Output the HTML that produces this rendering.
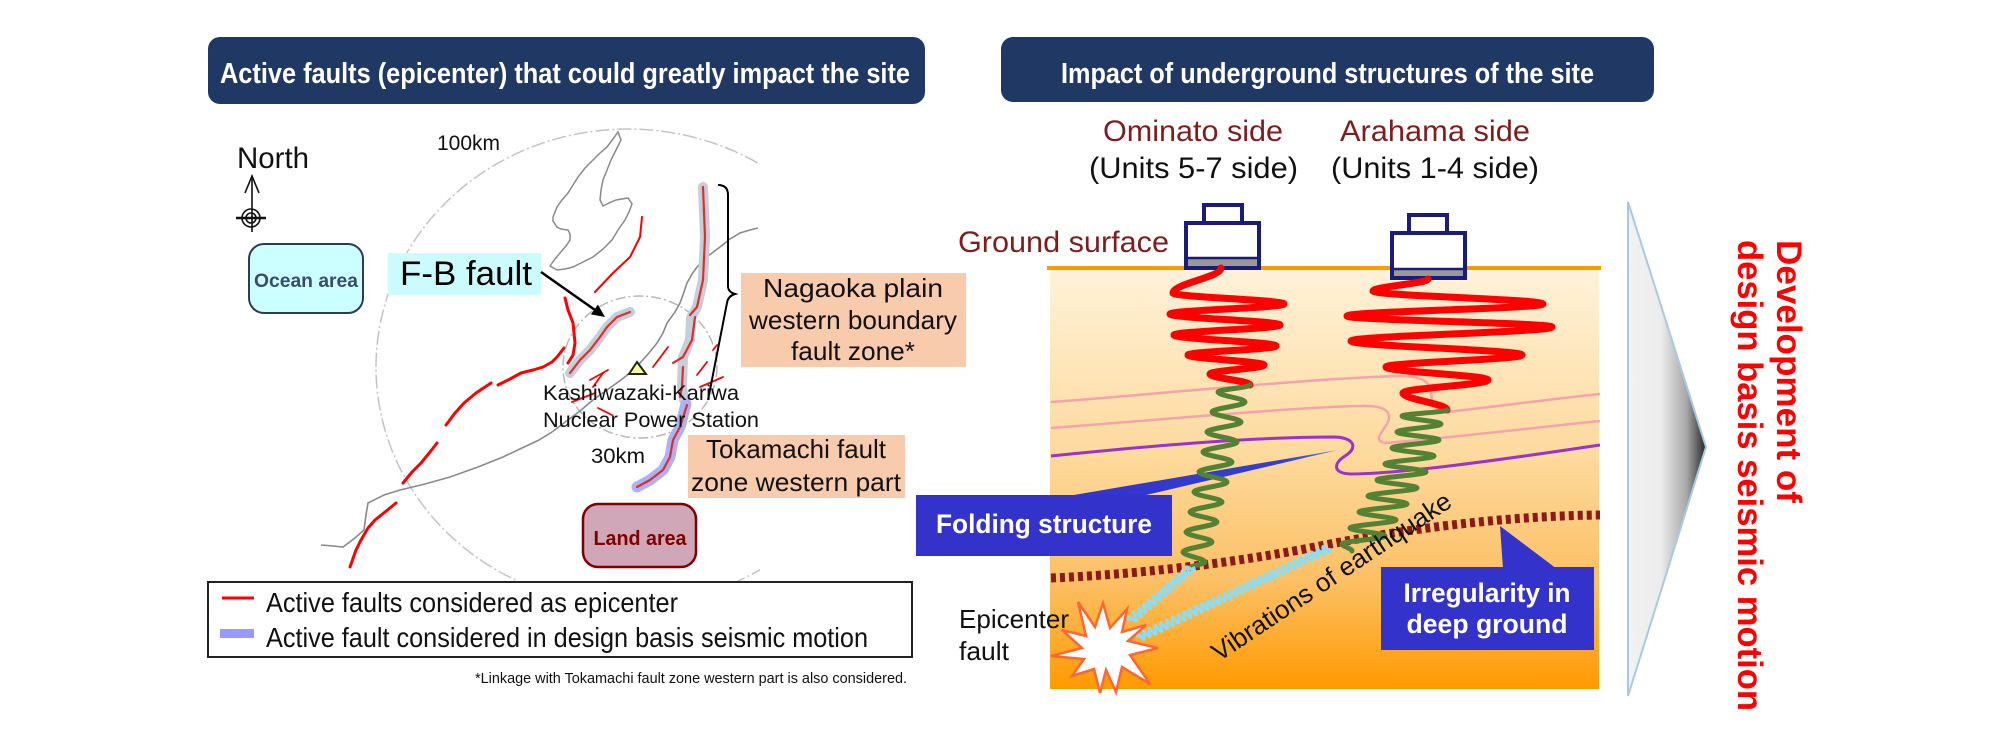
<!DOCTYPE html>
<html>
<head>
<meta charset="utf-8">
<style>
html,body{margin:0;padding:0;background:#fff;}
svg{display:block;}
text{font-family:"Liberation Sans",sans-serif;}
.nar{font-family:"Liberation Sans Narrow","Liberation Sans",sans-serif;}
</style>
</head>
<body>
<svg xmlns="http://www.w3.org/2000/svg" width="2000" height="750" viewBox="0 0 2000 750">
<defs>
  <linearGradient id="gnd" x1="0" y1="0" x2="0" y2="1">
    <stop offset="0" stop-color="#fff2da"/>
    <stop offset="0.45" stop-color="#fdd99c"/>
    <stop offset="0.75" stop-color="#fcbf63"/>
    <stop offset="1" stop-color="#ff9a00"/>
  </linearGradient>
  <linearGradient id="tri" x1="1628" y1="0" x2="1706" y2="0" gradientUnits="userSpaceOnUse">
    <stop offset="0" stop-color="#f2f2f2"/>
    <stop offset="0.42" stop-color="#ececec"/>
    <stop offset="0.75" stop-color="#a8a8a8"/>
    <stop offset="1" stop-color="#262626"/>
  </linearGradient>
  <linearGradient id="wedge" x1="1070" y1="0" x2="1338" y2="0" gradientUnits="userSpaceOnUse">
    <stop offset="0" stop-color="#3333cc"/>
    <stop offset="0.8" stop-color="#3340cc"/>
    <stop offset="1" stop-color="#6677dd"/>
  </linearGradient>
  <clipPath id="mapclip"><rect x="330" y="118" width="430" height="463"/></clipPath>
</defs>

<!-- ================= LEFT PANEL ================= -->
<rect x="208" y="37" width="717" height="67" rx="12" fill="#203864"/>
<text class="nar" x="220" y="83" font-size="29" font-weight="bold" fill="#fff" textLength="690" lengthAdjust="spacingAndGlyphs">Active faults (epicenter) that could greatly impact the site</text>

<!-- map circles -->
<g clip-path="url(#mapclip)">
  <ellipse cx="628" cy="367" rx="252" ry="238" fill="none" stroke="#c4c4c4" stroke-width="1.5" stroke-dasharray="14 3 2 3"/>
</g>
<ellipse cx="640" cy="367" rx="77" ry="71" fill="none" stroke="#b8b8b8" stroke-width="1.5" stroke-dasharray="10 3 2 3"/>

<!-- coastline -->
<path d="M321,545 L333,546 L343,547 L355,538 L364,530 L366,515 L368,503 L384,495 L400,490 L425,484 L450,477 L478,467 L503,457 L522,448 L539,440 L552,432 L564,423 L580,411 L593,400 L607,390 L621,380 L631,372 L640,363 L649,353 L657,343 L663,333 L667,323 L675,312 L680,303 L684,292 L687,283 L692,274 L697,267 L708,256 L720,247 L730,239 L740,233 L750,230 L758,228" fill="none" stroke="#8a8a8a" stroke-width="1.6"/>
<!-- Sado island -->
<path d="M618,132 L621,140 L616,150 L611,160 L607,170 L603,180 L601,190 L600,200 L603,206 L607,204 L616,200 L628,198 L632,204 L629,212 L625,220 L618,230 L612,240 L603,249 L593,257 L583,262 L573,267 L565,269 L557,270 L550,266 L555,259 L560,253 L566,246 L570,240 L570,234 L568,230 L561,229 L557,227 L553,221 L553,217 L557,207 L562,200 L568,193 L573,185 L578,177 L585,168 L593,160 L600,153 L607,147 L613,139 Z" fill="none" stroke="#8a8a8a" stroke-width="1.5"/>

<!-- fault halos -->
<g fill="none" stroke-linecap="round" stroke-linejoin="round">
  <path d="M570,373 L580,360 L590,350 L600,337 L607,327 L617,317 L630,312" stroke="#c6ceda" stroke-width="10"/>
  <path d="M703,187 L705,237 L703,280 L697,307 L691,318 L690,340 L683,357 L682,387 L684,400" stroke="#c6ceda" stroke-width="10"/>
  <path d="M686,404 L680,427 L673,440 L670,457 L663,470 L650,480 L637,487" stroke="#aeb2f2" stroke-width="11"/>
</g>
<!-- red faults -->
<g fill="none" stroke="#ff0000" stroke-linecap="round" stroke-linejoin="round">
  <path d="M350,567 L356,550 L361,540 L368,528 L375,520 L385,512 L396,503" stroke-width="3"/>
  <path d="M403,483 L412,472 L421,463 L430,452 L437,443" stroke-width="3"/>
  <path d="M446,425 L455,413 L464,403 L476,393 L491,383" stroke-width="3"/>
  <path d="M498,385 L510,379 L521,373 L533,370 L543,367 L552,362 L557,357 L564,348" stroke-width="3"/>
  <path d="M565,298 L568,310 L573,323 L575,343 L573,355 L568,363" stroke-width="3"/>
  <path d="M642,217 L640,237 L630,257 L613,273 L595,292" stroke-width="2"/>
  <path d="M653,367 L668,347" stroke-width="1.8"/>
  <path d="M697,375 L707,362" stroke-width="1.8"/>
  <path d="M700,387 L723,377" stroke-width="1.8"/>
  <path d="M713,350 L717,345" stroke-width="1.8"/>
  <path d="M590,380 L608,370" stroke-width="1.8"/>
  <path d="M598,408 L612,415" stroke-width="1.8"/>
  <path d="M593,387 L603,373" stroke-width="1.8"/>
  <path d="M572,402 L595,393" stroke-width="1.8"/>
</g>
<g fill="none" stroke="#d9302f" stroke-width="2.2" stroke-linecap="round" stroke-linejoin="round">
  <path d="M570,373 L580,360 L590,350 L600,337 L607,327 L617,317 L630,312"/>
  <path d="M703,187 L705,237 L703,280 L697,307 L690,315"/>
  <path d="M695,317 L692,340 L683,357 L673,363"/>
  <path d="M683,367 L682,387 L680,397"/>
  <path d="M687,405 L680,427 L673,440 L670,457 L663,470 L650,480 L637,487"/>
</g>
<!-- brace -->
<path d="M718,185 Q728,185 728,195 L728,286 Q728,292 735,294 Q728,296 727,303 L708,400" fill="none" stroke="#000" stroke-width="2"/>
<!-- station -->
<polygon points="637,362 629,374 646,374" fill="#ffff99" stroke="#222" stroke-width="2"/>

<!-- North -->
<text x="237" y="168" font-size="30" fill="#111" textLength="72" lengthAdjust="spacingAndGlyphs">North</text>
<line x1="252" y1="176" x2="252" y2="232" stroke="#111" stroke-width="1.6"/>
<polyline points="245,193 252,176 259,193" fill="none" stroke="#111" stroke-width="1.6"/>
<circle cx="251" cy="218" r="9" fill="none" stroke="#111" stroke-width="1.6"/>
<circle cx="251" cy="218" r="5" fill="none" stroke="#111" stroke-width="1.6"/>
<line x1="236" y1="218" x2="266" y2="218" stroke="#111" stroke-width="2.5"/>

<text x="437" y="150" font-size="21" fill="#111" textLength="63" lengthAdjust="spacingAndGlyphs">100km</text>

<!-- Ocean area -->
<rect x="249" y="244" width="114" height="69" rx="15" fill="#ccffff" stroke="#2f3b55" stroke-width="2"/>
<text x="306" y="287" font-size="19.5" font-weight="bold" fill="#3a4a6e" text-anchor="middle" textLength="104" lengthAdjust="spacingAndGlyphs">Ocean area</text>

<!-- F-B fault -->
<rect x="388" y="253" width="153" height="42" fill="#ccfbfd"/>
<text x="400" y="285" font-size="34" fill="#000" textLength="132" lengthAdjust="spacingAndGlyphs">F-B fault</text>
<line x1="541" y1="272" x2="595" y2="310" stroke="#000" stroke-width="2.5"/>
<polygon points="605,317 590.9,314.4 597.9,304.6" fill="#000"/>

<!-- station labels -->
<text x="543" y="400" font-size="21" fill="#111" textLength="196" lengthAdjust="spacingAndGlyphs">Kashiwazaki-Kariwa</text>
<text x="543" y="427" font-size="21" fill="#111" textLength="216" lengthAdjust="spacingAndGlyphs">Nuclear Power Station</text>
<text x="591" y="463" font-size="21" fill="#111" textLength="54" lengthAdjust="spacingAndGlyphs">30km</text>

<!-- Nagaoka box -->
<rect x="741" y="273" width="225" height="94" fill="#f8cbad"/>
<text x="853" y="297" font-size="26" fill="#111" text-anchor="middle" textLength="180" lengthAdjust="spacingAndGlyphs">Nagaoka plain</text>
<text x="853" y="329" font-size="26" fill="#111" text-anchor="middle" textLength="208" lengthAdjust="spacingAndGlyphs">western boundary</text>
<text x="853" y="360" font-size="26" fill="#111" text-anchor="middle" textLength="124" lengthAdjust="spacingAndGlyphs">fault zone*</text>

<!-- Tokamachi box -->
<rect x="688" y="435" width="217" height="63" fill="#f8cbad"/>
<text x="796" y="458" font-size="26" fill="#111" text-anchor="middle" textLength="180" lengthAdjust="spacingAndGlyphs">Tokamachi fault</text>
<text x="796" y="491" font-size="26" fill="#111" text-anchor="middle" textLength="210" lengthAdjust="spacingAndGlyphs">zone western part</text>

<!-- Land area -->
<rect x="583" y="504" width="113" height="63" rx="15" fill="#cfa7b6" stroke="#7f0000" stroke-width="2.5"/>
<text x="640" y="545" font-size="20" font-weight="bold" fill="#7f0000" text-anchor="middle" textLength="93" lengthAdjust="spacingAndGlyphs">Land area</text>

<!-- Legend -->
<rect x="208" y="582" width="704" height="75" fill="#fff" stroke="#222" stroke-width="2"/>
<line x1="222" y1="598" x2="254" y2="598" stroke="#ff0000" stroke-width="3"/>
<text class="nar" x="266" y="612" font-size="28" fill="#111" textLength="412" lengthAdjust="spacingAndGlyphs">Active faults considered as epicenter</text>
<rect x="220" y="629" width="34" height="9" fill="#9999ff"/>
<text class="nar" x="266" y="647" font-size="28" fill="#111" textLength="602" lengthAdjust="spacingAndGlyphs">Active fault considered in design basis seismic motion</text>
<text class="nar" x="475" y="683" font-size="15" fill="#111" textLength="432" lengthAdjust="spacingAndGlyphs">*Linkage with Tokamachi fault zone western part is also considered.</text>

<!-- ================= RIGHT PANEL ================= -->
<rect x="1001" y="37" width="653" height="65" rx="12" fill="#203864"/>
<text class="nar" x="1061" y="83" font-size="29" font-weight="bold" fill="#fff" textLength="533" lengthAdjust="spacingAndGlyphs">Impact of underground structures of the site</text>

<text x="1103" y="141" font-size="30" fill="#7f1d1d" textLength="180" lengthAdjust="spacingAndGlyphs">Ominato side</text>
<text x="1340" y="141" font-size="30" fill="#7f1d1d" textLength="190" lengthAdjust="spacingAndGlyphs">Arahama side</text>
<text x="1089" y="178" font-size="30" fill="#111" textLength="209" lengthAdjust="spacingAndGlyphs">(Units 5-7 side)</text>
<text x="1331" y="178" font-size="30" fill="#111" textLength="208" lengthAdjust="spacingAndGlyphs">(Units 1-4 side)</text>
<text x="958" y="252" font-size="30" fill="#7f1d1d" textLength="211" lengthAdjust="spacingAndGlyphs">Ground surface</text>

<!-- ground -->
<rect x="1050" y="269" width="549" height="420" fill="url(#gnd)"/>

<!-- layers -->
<path d="M1051,402 C1150,395 1300,379 1400,376 C1422,376 1430,382 1431,392 C1432,403 1434,411 1447,412 C1500,406 1560,398 1600,394" fill="none" stroke="#f4a3ab" stroke-width="2.5"/>
<path d="M1051,428 C1180,418 1300,407 1360,406 C1385,405 1392,412 1388,422 C1383,432 1372,440 1385,443 C1450,438 1540,427 1600,421" fill="none" stroke="#f4a3ab" stroke-width="2.5"/>
<path d="M1051,456 C1150,446 1250,437 1335,437 C1355,438 1358,448 1345,456 C1333,464 1333,473 1350,474 C1400,474 1500,460 1600,445" fill="none" stroke="#9933cc" stroke-width="3"/>

<!-- folding wedge -->
<polygon points="1068,496 1142,496 1338,450" fill="url(#wedge)"/>

<!-- dotted irregular line -->
<path d="M1051,578 C1150,574 1250,560 1320,546 C1400,530 1500,516 1600,515" fill="none" stroke="#8c1a1a" stroke-width="9" stroke-dasharray="5 4"/>

<!-- ground surface line -->
<line x1="1047" y1="268" x2="1601" y2="268" stroke="#ff9900" stroke-width="4"/>

<!-- buildings -->
<rect x="1204" y="205" width="38" height="18" fill="#fff" stroke="#1b1b7a" stroke-width="4"/>
<rect x="1186" y="223" width="73" height="45" fill="#fff" stroke="#1b1b7a" stroke-width="4"/>
<rect x="1188" y="259" width="69" height="7" fill="#999"/>
<line x1="1188" y1="258" x2="1257" y2="258" stroke="#1b1b7a" stroke-width="2.5"/>

<rect x="1409" y="215" width="38" height="18" fill="#fff" stroke="#1b1b7a" stroke-width="4"/>
<rect x="1392" y="233" width="73" height="45" fill="#fff" stroke="#1b1b7a" stroke-width="4"/>
<rect x="1394" y="270" width="69" height="6" fill="#999"/>
<line x1="1394" y1="269" x2="1463" y2="269" stroke="#1b1b7a" stroke-width="2.5"/>

<!-- waves -->
<g fill="none" stroke-linecap="round" stroke-linejoin="round">
<path stroke="#ff0000" stroke-width="7" d="M1221,268 C1221,277.1 1173,283.9 1173,293 C1173,297 1284,300 1284,304 C1284,307.6 1170,310.4 1170,314 C1170,318 1280,321 1280,325 C1280,328.6 1174,331.4 1174,335 C1174,339 1276,342 1276,346 C1276,349.3 1188,351.7 1188,355 C1188,358.6 1264,361.4 1264,365 C1264,368.3 1210,370.7 1210,374 C1210,378 1250,381 1250,385"/>
<path stroke="#548235" stroke-width="5" d="M1250,385 C1250,387.5 1218,389.5 1218,392 C1218,395.6 1245,398.4 1245,402 C1245,405.6 1212,408.4 1212,412 C1212,415.6 1241,418.4 1241,422 C1241,425.6 1207,428.4 1207,432 C1207,435.6 1237,438.4 1237,442 C1237,445.6 1203,448.4 1203,452 C1203,455.6 1232,458.4 1232,462 C1232,465.6 1199,468.4 1199,472 C1199,475.6 1227,478.4 1227,482 C1227,485.6 1194,488.4 1194,492 C1194,495.6 1222,498.4 1222,502 C1222,505.6 1190,508.4 1190,512 C1190,515.6 1217,518.4 1217,522 C1217,525.6 1186,528.4 1186,532 C1186,535.6 1212,538.4 1212,542 C1212,545.6 1183,548.4 1183,552 C1183,555.6 1205,558.4 1205,562 C1205,564.2 1190,565.8 1190,568"/>
<path stroke="#ff0000" stroke-width="7" d="M1428,279 C1428,283.4 1373,286.6 1373,291 C1373,295.7 1543,299.3 1543,304 C1543,308.4 1347,311.6 1347,316 C1347,320 1552,323 1552,327 C1552,332.1 1351,335.9 1351,341 C1351,346.1 1522,349.9 1522,355 C1522,359.4 1386,362.6 1386,367 C1386,371.7 1488,375.3 1488,380 C1488,384.7 1403,388.3 1403,393 C1403,399.2 1447,403.8 1447,410"/>
<path stroke="#548235" stroke-width="5" d="M1447,410 C1447,412.2 1402,413.8 1402,416 C1402,418.9 1441,421.1 1441,424 C1441,426.9 1397,429.1 1397,432 C1397,434.9 1439,437.1 1439,440 C1439,442.9 1392,445.1 1392,448 C1392,450.9 1434,453.1 1434,456 C1434,458.9 1385,461.1 1385,464 C1385,466.9 1426,469.1 1426,472 C1426,474.9 1377,477.1 1377,480 C1377,482.9 1417,485.1 1417,488 C1417,490.9 1368,493.1 1368,496 C1368,498.9 1407,501.1 1407,504 C1407,506.9 1359,509.1 1359,512 C1359,514.9 1396,517.1 1396,520 C1396,522.9 1350,525.1 1350,528 C1350,530.9 1385,533.1 1385,536 C1385,538.9 1342,541.1 1342,544 C1342,546.5 1352,548.5 1352,551"/>
</g>

<!-- cyan vibration lines -->
<g fill="none" stroke="#8fdcf0" stroke-width="3">
<path transform="translate(1130,621) rotate(-40.7)" d="M0,0 q1.6,-8 3.2,0 t3.2,0 t3.2,0 t3.2,0 t3.2,0 t3.2,0 t3.2,0 t3.2,0 t3.2,0 t3.2,0 t3.2,0 t3.2,0 t3.2,0 t3.2,0 t3.2,0 t3.2,0 t3.2,0 t3.2,0 t3.2,0 t3.2,0 t3.2,0 t3.2,0 t3.2,0 t3.2,0 t3.2,0 t3.2,0"/>
<path transform="translate(1138,638) rotate(-25.2)" d="M0,0 q1.6,-8 3.2,0 t3.2,0 t3.2,0 t3.2,0 t3.2,0 t3.2,0 t3.2,0 t3.2,0 t3.2,0 t3.2,0 t3.2,0 t3.2,0 t3.2,0 t3.2,0 t3.2,0 t3.2,0 t3.2,0 t3.2,0 t3.2,0 t3.2,0 t3.2,0 t3.2,0 t3.2,0 t3.2,0 t3.2,0 t3.2,0 t3.2,0 t3.2,0 t3.2,0 t3.2,0 t3.2,0 t3.2,0 t3.2,0 t3.2,0 t3.2,0 t3.2,0 t3.2,0 t3.2,0 t3.2,0 t3.2,0 t3.2,0 t3.2,0 t3.2,0 t3.2,0 t3.2,0 t3.2,0 t3.2,0 t3.2,0 t3.2,0 t3.2,0 t3.2,0 t3.2,0 t3.2,0 t3.2,0 t3.2,0 t3.2,0 t3.2,0 t3.2,0 t3.2,0 t3.2,0 t3.2,0 t3.2,0 t3.2,0 t3.2,0 t3.2,0 t3.2,0"/>
</g>

<!-- epicenter star -->
<polygon points="1103,603 1110,628 1127,609 1122,632 1146,625 1128,641 1158,648 1130,655 1150,684 1122,667 1116,692 1106,670 1100,693 1094,669 1072,676 1084,659 1051,656 1082,648 1062,630 1086,636 1078,602 1095,627" fill="#fff" stroke="#ff6633" stroke-width="2.5" stroke-linejoin="miter"/>

<text x="959" y="628" font-size="26" fill="#111" textLength="110" lengthAdjust="spacingAndGlyphs">Epicenter</text>
<text x="959" y="660" font-size="26" fill="#111" textLength="50" lengthAdjust="spacingAndGlyphs">fault</text>

<text transform="translate(1219,662) rotate(-33.7)" x="0" y="0" font-size="26" fill="#111" textLength="282" lengthAdjust="spacingAndGlyphs">Vibrations of earthquake</text>

<!-- Folding structure box -->
<rect x="916" y="495" width="256" height="61" fill="#3333cc"/>
<text x="1044" y="533" font-size="27" font-weight="bold" fill="#fff" text-anchor="middle" textLength="216" lengthAdjust="spacingAndGlyphs">Folding structure</text>

<!-- Irregularity box -->
<polygon points="1503,569 1557,569 1500,526" fill="#3333cc"/>
<rect x="1381" y="567" width="213" height="83" fill="#3333cc"/>
<text x="1487" y="602" font-size="27" font-weight="bold" fill="#fff" text-anchor="middle" textLength="167" lengthAdjust="spacingAndGlyphs">Irregularity in</text>
<text x="1487" y="633" font-size="27" font-weight="bold" fill="#fff" text-anchor="middle" textLength="161" lengthAdjust="spacingAndGlyphs">deep ground</text>

<!-- big arrow triangle -->
<polygon points="1628,202 1706,447 1628,696" fill="url(#tri)" stroke="#a9c8e6" stroke-width="2"/>

<!-- vertical red text -->
<text transform="translate(1777,240) rotate(90)" x="0" y="0" font-size="35" font-weight="bold" fill="#ff0000" textLength="263" lengthAdjust="spacingAndGlyphs">Development of</text>
<text transform="translate(1738,240) rotate(90)" x="0" y="0" font-size="35" font-weight="bold" fill="#ff0000" textLength="471" lengthAdjust="spacingAndGlyphs">design basis seismic motion</text>
</svg>
</body>
</html>
